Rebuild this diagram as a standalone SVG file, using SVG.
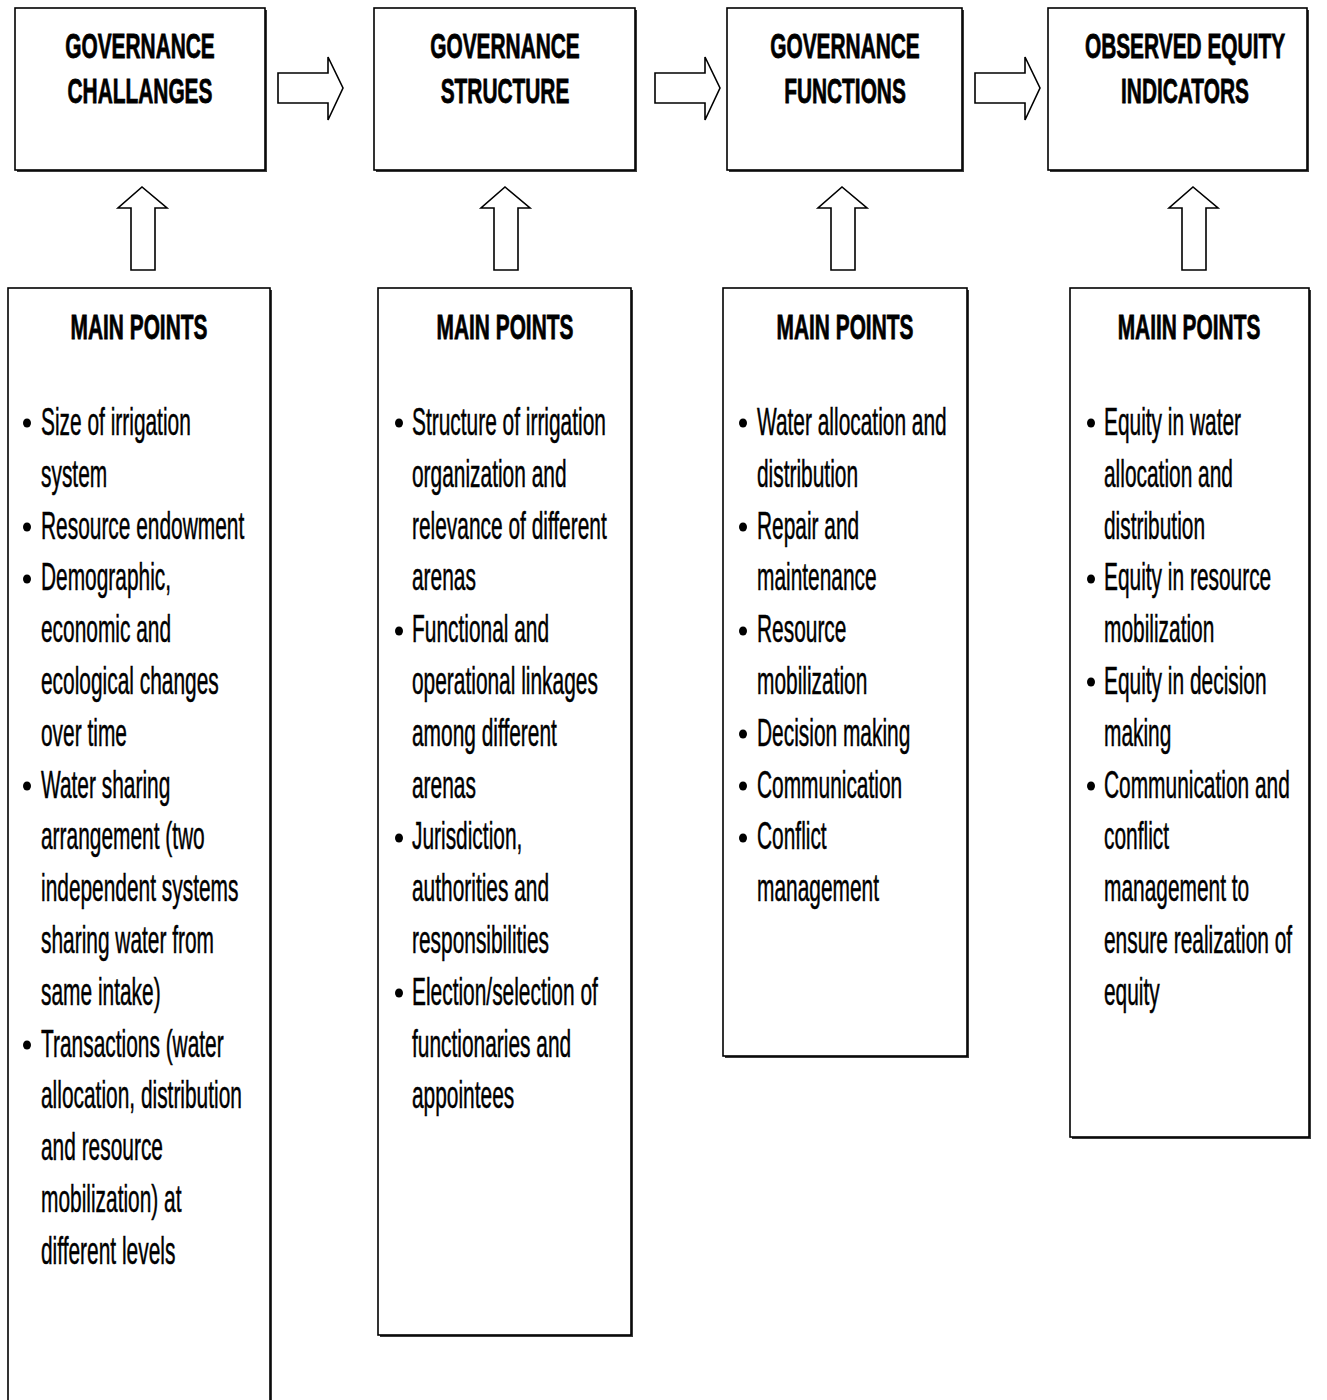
<svg xmlns="http://www.w3.org/2000/svg" width="1327" height="1400" viewBox="0 0 1327 1400">
  <style>
    .box { fill: #fff; stroke: #000; stroke-width: 1.6; }
    .shadow { fill: #3a3a3a; }
    .arrow { fill: #fff; stroke: #000; stroke-width: 1.6; stroke-linejoin: miter; }
    .title { font-family: "Liberation Sans", Arial, sans-serif; font-weight: bold; font-size: 36px; fill: #000; stroke: #000; stroke-width: 0.8; text-anchor: middle; }
    .body { font-family: "Liberation Sans", Arial, sans-serif; font-size: 38px; fill: #000; stroke: #000; stroke-width: 0.5; }
    .dot { fill: #000; }
  </style>
  <rect width="1327" height="1400" fill="#fff"/>

  <!-- horizontal and vertical block arrows -->
  <g id="connectors">
    <path class="arrow" d="M278,73 H328 V57 L343,88 L328,120 V103 H278 Z"/>
    <path class="arrow" d="M655,73 H705 V57 L720,88 L705,120 V103 H655 Z"/>
    <path class="arrow" d="M975,73 H1025 V57 L1040,88 L1025,120 V103 H975 Z"/>
    <path class="arrow" d="M131,270 V208 H118 L142,187 L167,208 H155 V270 Z"/>
    <path class="arrow" d="M494,270 V208 H481 L505,187 L530,208 H518 V270 Z"/>
    <path class="arrow" d="M831,270 V208 H818 L842,187 L867,208 H855 V270 Z"/>
    <path class="arrow" d="M1182,270 V208 H1169 L1193,187 L1218,208 H1206 V270 Z"/>
  </g>

  <!-- top row -->
  <g id="challenges">
    <rect class="shadow" x="17" y="10" width="250" height="162"/>
    <rect class="box" x="15" y="8" width="250" height="162"/>
    <g transform="translate(140,0) scale(0.58,1)">
      <text class="title" x="0" y="58">GOVERNANCE</text>
      <text class="title" x="0" y="103">CHALLANGES</text>
    </g>
  </g>
  <g id="structure">
    <rect class="shadow" x="376" y="10" width="261" height="162"/>
    <rect class="box" x="374" y="8" width="261" height="162"/>
    <g transform="translate(505,0) scale(0.58,1)">
      <text class="title" x="0" y="58">GOVERNANCE</text>
      <text class="title" x="0" y="103">STRUCTURE</text>
    </g>
  </g>
  <g id="functions">
    <rect class="shadow" x="729" y="10" width="235" height="162"/>
    <rect class="box" x="727" y="8" width="235" height="162"/>
    <g transform="translate(845,0) scale(0.58,1)">
      <text class="title" x="0" y="58">GOVERNANCE</text>
      <text class="title" x="0" y="103">FUNCTIONS</text>
    </g>
  </g>
  <g id="indicators">
    <rect class="shadow" x="1050" y="10" width="259" height="162"/>
    <rect class="box" x="1048" y="8" width="259" height="162"/>
    <g transform="translate(1185,0) scale(0.58,1)">
      <text class="title" x="0" y="58">OBSERVED EQUITY</text>
      <text class="title" x="0" y="103">INDICATORS</text>
    </g>
  </g>

  <!-- main points, column 1 -->
  <g id="points-challenges">
    <rect class="shadow" x="10" y="290" width="262" height="1130"/>
    <rect class="box" x="8" y="288" width="262" height="1130"/>
    <g transform="translate(139,0) scale(0.58,1)">
      <text class="title" x="0" y="339">MAIN POINTS</text>
    </g>
    <ellipse class="dot" cx="27" cy="423" rx="4" ry="4.5"/>
    <ellipse class="dot" cx="27" cy="527" rx="4" ry="4.5"/>
    <ellipse class="dot" cx="27" cy="579" rx="4" ry="4.5"/>
    <ellipse class="dot" cx="27" cy="786" rx="4" ry="4.5"/>
    <ellipse class="dot" cx="27" cy="1045" rx="4" ry="4.5"/>
    <g transform="translate(41,0) scale(0.55,1)">
      <text class="body" x="0" y="435">Size of irrigation</text>
      <text class="body" x="0" y="487">system</text>
      <text class="body" x="0" y="539">Resource endowment</text>
      <text class="body" x="0" y="590">Demographic,</text>
      <text class="body" x="0" y="642">economic and</text>
      <text class="body" x="0" y="694">ecological changes</text>
      <text class="body" x="0" y="746">over time</text>
      <text class="body" x="0" y="798">Water sharing</text>
      <text class="body" x="0" y="849">arrangement (two</text>
      <text class="body" x="0" y="901">independent systems</text>
      <text class="body" x="0" y="953">sharing water from</text>
      <text class="body" x="0" y="1005">same intake)</text>
      <text class="body" x="0" y="1057">Transactions (water</text>
      <text class="body" x="0" y="1108">allocation, distribution</text>
      <text class="body" x="0" y="1160">and resource</text>
      <text class="body" x="0" y="1212">mobilization) at</text>
      <text class="body" x="0" y="1264">different levels</text>
    </g>
  </g>

  <!-- main points, column 2 -->
  <g id="points-structure">
    <rect class="shadow" x="380" y="290" width="253" height="1047"/>
    <rect class="box" x="378" y="288" width="253" height="1047"/>
    <g transform="translate(505,0) scale(0.58,1)">
      <text class="title" x="0" y="339">MAIN POINTS</text>
    </g>
    <ellipse class="dot" cx="399" cy="423" rx="4" ry="4.5"/>
    <ellipse class="dot" cx="399" cy="631" rx="4" ry="4.5"/>
    <ellipse class="dot" cx="399" cy="838" rx="4" ry="4.5"/>
    <ellipse class="dot" cx="399" cy="993" rx="4" ry="4.5"/>
    <g transform="translate(412,0) scale(0.55,1)">
      <text class="body" x="0" y="435">Structure of irrigation</text>
      <text class="body" x="0" y="487">organization and</text>
      <text class="body" x="0" y="539">relevance of different</text>
      <text class="body" x="0" y="590">arenas</text>
      <text class="body" x="0" y="642">Functional and</text>
      <text class="body" x="0" y="694">operational linkages</text>
      <text class="body" x="0" y="746">among different</text>
      <text class="body" x="0" y="798">arenas</text>
      <text class="body" x="0" y="849">Jurisdiction,</text>
      <text class="body" x="0" y="901">authorities and</text>
      <text class="body" x="0" y="953">responsibilities</text>
      <text class="body" x="0" y="1005">Election/selection of</text>
      <text class="body" x="0" y="1057">functionaries and</text>
      <text class="body" x="0" y="1108">appointees</text>
    </g>
  </g>

  <!-- main points, column 3 -->
  <g id="points-functions">
    <rect class="shadow" x="725" y="290" width="244" height="768"/>
    <rect class="box" x="723" y="288" width="244" height="768"/>
    <g transform="translate(845,0) scale(0.58,1)">
      <text class="title" x="0" y="339">MAIN POINTS</text>
    </g>
    <ellipse class="dot" cx="743" cy="423" rx="4" ry="4.5"/>
    <ellipse class="dot" cx="743" cy="527" rx="4" ry="4.5"/>
    <ellipse class="dot" cx="743" cy="631" rx="4" ry="4.5"/>
    <ellipse class="dot" cx="743" cy="734" rx="4" ry="4.5"/>
    <ellipse class="dot" cx="743" cy="786" rx="4" ry="4.5"/>
    <ellipse class="dot" cx="743" cy="838" rx="4" ry="4.5"/>
    <g transform="translate(757,0) scale(0.55,1)">
      <text class="body" x="0" y="435">Water allocation and</text>
      <text class="body" x="0" y="487">distribution</text>
      <text class="body" x="0" y="539">Repair and</text>
      <text class="body" x="0" y="590">maintenance</text>
      <text class="body" x="0" y="642">Resource</text>
      <text class="body" x="0" y="694">mobilization</text>
      <text class="body" x="0" y="746">Decision making</text>
      <text class="body" x="0" y="798">Communication</text>
      <text class="body" x="0" y="849">Conflict</text>
      <text class="body" x="0" y="901">management</text>
    </g>
  </g>

  <!-- main points, column 4 -->
  <g id="points-indicators">
    <rect class="shadow" x="1072" y="290" width="239" height="849"/>
    <rect class="box" x="1070" y="288" width="239" height="849"/>
    <g transform="translate(1189,0) scale(0.58,1)">
      <text class="title" x="0" y="339">MAIIN POINTS</text>
    </g>
    <ellipse class="dot" cx="1091" cy="423" rx="4" ry="4.5"/>
    <ellipse class="dot" cx="1091" cy="579" rx="4" ry="4.5"/>
    <ellipse class="dot" cx="1091" cy="682" rx="4" ry="4.5"/>
    <ellipse class="dot" cx="1091" cy="786" rx="4" ry="4.5"/>
    <g transform="translate(1104,0) scale(0.55,1)">
      <text class="body" x="0" y="435">Equity in water</text>
      <text class="body" x="0" y="487">allocation and</text>
      <text class="body" x="0" y="539">distribution</text>
      <text class="body" x="0" y="590">Equity in resource</text>
      <text class="body" x="0" y="642">mobilization</text>
      <text class="body" x="0" y="694">Equity in decision</text>
      <text class="body" x="0" y="746">making</text>
      <text class="body" x="0" y="798">Communication and</text>
      <text class="body" x="0" y="849">conflict</text>
      <text class="body" x="0" y="901">management to</text>
      <text class="body" x="0" y="953">ensure realization of</text>
      <text class="body" x="0" y="1005">equity</text>
    </g>
  </g>
</svg>
